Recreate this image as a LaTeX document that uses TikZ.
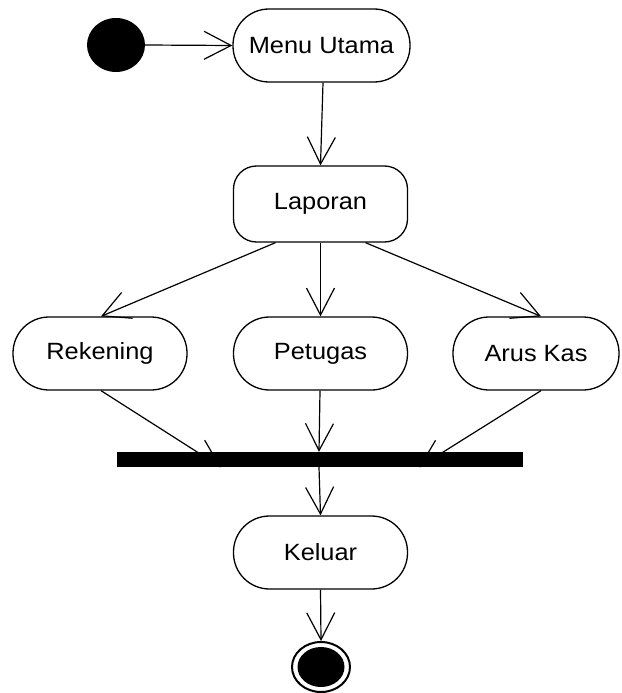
\documentclass[tikz,border=0pt]{standalone}
\usepackage{fontspec}
\setmainfont{Liberation Sans}[FakeStretch=1.08]
\usetikzlibrary{arrows.meta,shapes.geometric,calc,backgrounds}
\begin{document}
\begin{tikzpicture}[x=1pt,y=-1pt,
  pill/.style={draw,line width=1.3pt,rounded corners=36pt,minimum height=73pt,
    minimum width=174pt,inner sep=0pt,font=\fontsize{23.5}{27}\selectfont},
  actbox/.style={draw,line width=1.3pt,rounded corners=23pt,minimum height=76pt,
    minimum width=174pt,inner sep=0pt,font=\fontsize{23.5}{27}\selectfont},
  flow/.style={line width=1.2pt,-{Straight Barb[length=27pt,width=28pt,line width=1.2pt]}},
  bar/.style={fill=black,draw=none,minimum width=406pt,minimum height=15pt,inner sep=0pt}]
\useasboundingbox (0,0) rectangle (621,693);
\node[ellipse,fill=black,minimum width=58pt,minimum height=54pt,inner sep=0pt] (start) at (116,45) {};
\node[pill,minimum width=177pt] (menu) at (321.5,45.5) {Menu Utama};
\node[actbox] (lap) at (320.5,204) {Laporan};
\node[pill] (rek) at (100,353.5) {Rekening};
\node[pill] (pet) at (320.5,353.5) {Petugas};
\node[pill,minimum width=166pt] (arus) at (536,353.5) {Arus Kas};
\node[bar] (bar) at (320,459.5) {};
\node[pill] (kel) at (320.5,552.5) {Keluar};
\node[ellipse,draw,line width=2pt,minimum width=58pt,minimum height=50pt,inner sep=0pt] (end) at (321,667) {};
\node[ellipse,fill=black,minimum width=47pt,minimum height=40pt,inner sep=0pt] (endin) at (end.center) {};
\draw[flow] (start.east) -- (menu.west);
\draw[flow] ($(menu.south)+(1.5,0)$) -- (lap.north);
\draw[flow] ($(lap.south)+(-45,0)$) -- ($(rek.north)+(1,0)$);
\draw[flow] (lap.south) -- (pet.north);
\draw[flow] ($(lap.south)+(45,0)$) -- ($(arus.north)+(5,0)$);
\begin{scope}[on background layer]
\draw[flow] ($(rek.south)+(1,0)$) -- ($(bar.south)+(-99,0)$);
\draw[flow] ($(arus.south)+(5,0)$) -- ($(bar.south)+(99,0)$);
\end{scope}
\draw[flow] ($(pet.south)+(-0.5,0)$) -- ($(bar.north)+(-1,0)$);
\draw[flow] ($(bar.south)+(-1,0)$) -- (kel.north);
\draw[flow] (kel.south) -- (end.north);
\end{tikzpicture}
\end{document}
